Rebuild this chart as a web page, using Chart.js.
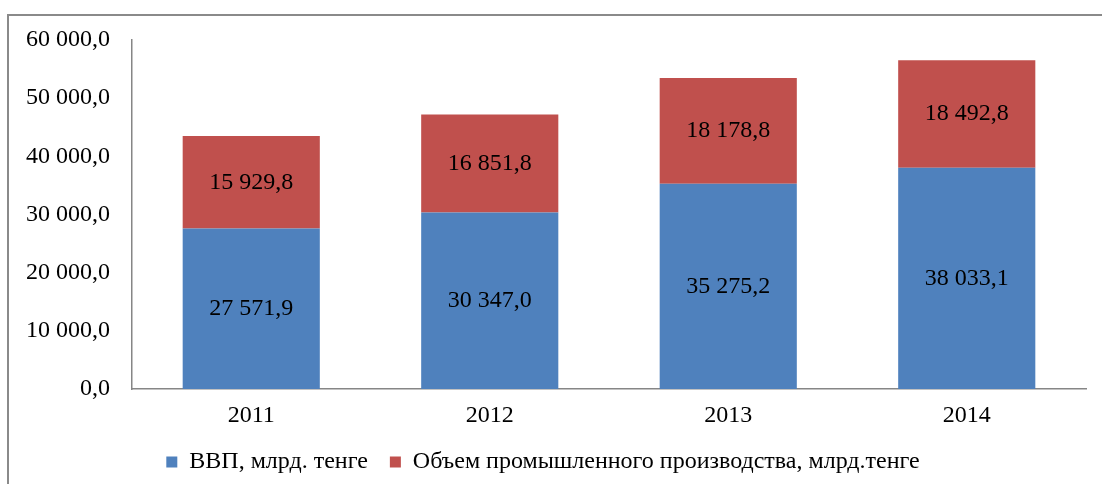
<!DOCTYPE html>
<html>
<head>
<meta charset="utf-8">
<script src="https://cdn.jsdelivr.net/npm/chart.js@4"></script>
<style>
  html, body { margin: 0; padding: 0; background: #fff; }
  #wrap { position: relative; width: 1102px; height: 484px; overflow: hidden; }
  #frame {
    position: absolute; left: 7px; top: 14px; width: 1200px; height: 600px;
    border: 2px solid #8a8a8a;
  }
  #chart { position: absolute; left: 0; top: 0; }
</style>
</head>
<body>
<div id="wrap">
  <div id="frame"></div>
  <canvas id="chart" width="1102" height="484"></canvas>
</div>
<script>
// данные
const years = ['2011', '2012', '2013', '2014'];
const gdp = [27571.9, 30347.0, 35275.2, 38033.1];
const industry = [15929.8, 16851.8, 18178.8, 18492.8];
const yMin = 0;
const yMax = 60000;
const yStep = 10000;

const seriesNames = ['ВВП, млрд. тенге', 'Объем промышленного производства, млрд.тенге'];
const colors = ['#4F81BD', '#C0504D'];

const FONT = "'Liberation Serif', 'Times New Roman', serif";
const FSIZE = 24;

// 27571.9 -> "27 571,9"
function fmt(v) {
  const parts = Number(v).toFixed(1).split('.');
  const intPart = parts[0].replace(/\B(?=(\d{3})+(?!\d))/g, ' ');
  return intPart + ',' + parts[1];
}

// подписи значений в центре сегментов
const valueLabels = {
  id: 'valueLabels',
  afterDatasetsDraw(chart) {
    const ctx = chart.ctx;
    ctx.save();
    ctx.font = FSIZE + 'px ' + FONT;
    ctx.fillStyle = '#000';
    ctx.textAlign = 'center';
    ctx.textBaseline = 'middle';
    chart.data.datasets.forEach((ds, i) => {
      const meta = chart.getDatasetMeta(i);
      meta.data.forEach((bar, j) => {
        const p = bar.getProps(['x', 'y', 'base'], true);
        ctx.fillText(fmt(ds.data[j]), p.x, (p.y + p.base) / 2);
      });
    });
    ctx.restore();
  }
};

new Chart(document.getElementById('chart'), {
  type: 'bar',
  data: {
    labels: years,
    datasets: [
      {
        label: seriesNames[0],
        data: gdp,
        backgroundColor: colors[0],
        borderWidth: 0,
        categoryPercentage: 1,
        barPercentage: 0.575
      },
      {
        label: seriesNames[1],
        data: industry,
        backgroundColor: colors[1],
        borderWidth: 0,
        categoryPercentage: 1,
        barPercentage: 0.575
      }
    ]
  },
  options: {
    responsive: false,
    animation: false,
    layout: {
      padding: { left: 0, right: 16, top: 40, bottom: 0 }
    },
    scales: {
      x: {
        stacked: true,
        grid: { display: false, drawTicks: false },
        border: { display: true, color: '#868686', width: 1.5 },
        ticks: {
          color: '#000',
          padding: 12,
          font: { family: FONT, size: FSIZE }
        },
        afterFit(scale) { scale.height = 39; }
      },
      y: {
        stacked: true,
        min: yMin,
        max: yMax,
        grid: { display: false, drawTicks: false },
        border: { display: true, color: '#868686', width: 1.5 },
        ticks: {
          stepSize: yStep,
          color: '#000',
          padding: 22,
          font: { family: FONT, size: FSIZE },
          callback: (v) => fmt(v)
        },
        afterFit(scale) { scale.width = 132; }
      }
    },
    plugins: {
      legend: {
        position: 'bottom',
        labels: {
          color: '#000',
          boxWidth: 11,
          boxHeight: 11,
          padding: 22,
          font: { family: FONT, size: FSIZE }
        }
      },
      tooltip: { enabled: false }
    }
  },
  plugins: [valueLabels]
});
</script>
</body>
</html>
